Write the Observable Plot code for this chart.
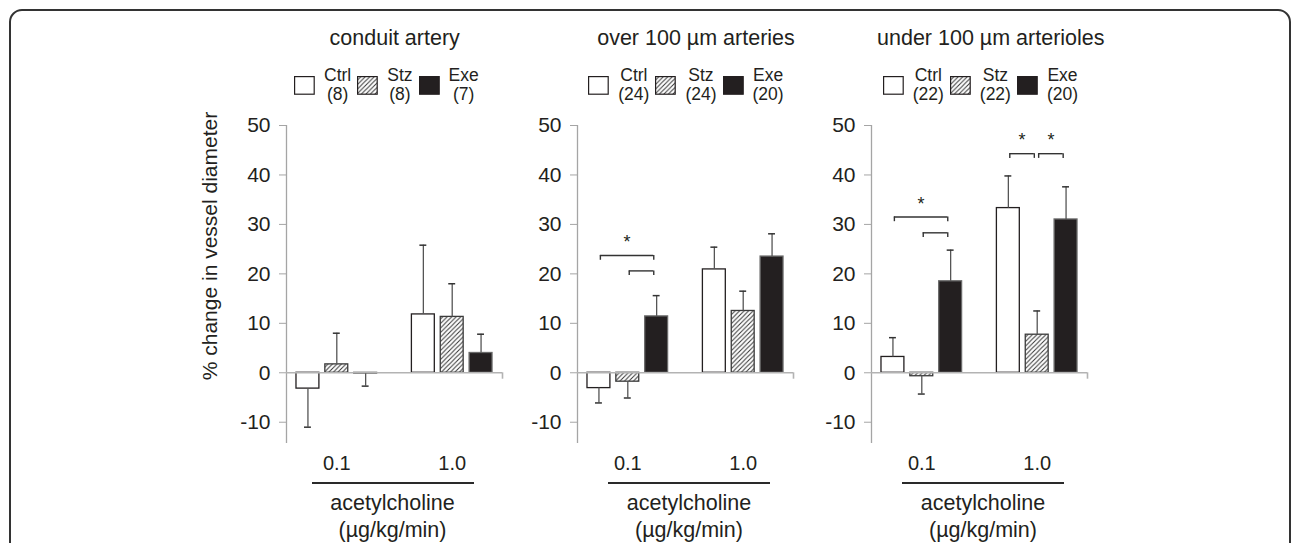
<!DOCTYPE html>
<html>
<head>
<meta charset="utf-8">
<script src="https://cdn.jsdelivr.net/npm/d3@7"></script>
<script src="https://cdn.jsdelivr.net/npm/@observablehq/plot@0.6"></script>
<style>
html, body { margin: 0; padding: 0; background: #fff; }
#root { position: relative; width: 1292px; height: 543px; overflow: hidden; background: #fff;
  font-family: "Liberation Sans", Arial, Helvetica, sans-serif; color: #231f20; }
#frame { position: absolute; left: 9px; top: 9px; width: 1282px; height: 620px; box-sizing: border-box;
  border: 2px solid #333; border-radius: 13px; }
.abs { position: absolute; white-space: nowrap; }
.legtxt { text-align: center; font-size: 17.5px; line-height: 18.5px; }
</style>
</head>
<body>
<svg width="0" height="0" style="position:absolute">
  <defs>
    <pattern id="hatch" patternUnits="userSpaceOnUse" width="4.5" height="4.5">
      <path d="M-1,1 L1,-1 M0,4.5 L4.5,0 M3.5,5.5 L5.5,3.5" stroke="#333" stroke-width="1"/>
    </pattern>
  </defs>
</svg>
<div id="root"><div id="frame"></div></div>
<script>
// ---------------- DATA ----------------
const groups = ["Ctrl", "Stz", "Exe"];
const doses = ["0.1", "1.0"];
const panelTitles = ["conduit artery", "over 100 µm arteries", "under 100 µm arterioles"];
const groupCounts = [[8, 8, 7], [24, 24, 20], [22, 22, 20]];
const yTicks = [-10, 0, 10, 20, 30, 40, 50];
const yTitle = "% change in vessel diameter";
const xTitle = "acetylcholine";
const xUnit = "(µg/kg/min)";

// order: Ctrl 0.1, Stz 0.1, Exe 0.1, Ctrl 1.0, Stz 1.0, Exe 1.0
const conduitMean = [-3.2, 1.7, -0.2, 11.8, 11.3, 4.0];
const conduitErr  = [7.8, 6.3, 2.5, 14.0, 6.7, 3.8];
const over100Mean = [-3.1, -1.8, 11.4, 20.9, 12.5, 23.5];
const over100Err  = [3.0, 3.3, 4.2, 4.5, 4.0, 4.6];
const under100Mean = [3.2, -0.7, 18.5, 33.3, 7.7, 31.0];
const under100Err  = [3.9, 3.6, 6.3, 6.5, 4.8, 6.6];

// significance brackets: panel index, dose, from group, to group, level, star
const bracketPanel = [1, 1, 2, 2, 2, 2];
const bracketDose  = ["0.1", "0.1", "0.1", "0.1", "1.0", "1.0"];
const bracketFrom  = ["Ctrl", "Stz", "Ctrl", "Stz", "Ctrl", "Stz"];
const bracketTo    = ["Exe", "Exe", "Exe", "Exe", "Stz", "Exe"];
const bracketLevel = [23.7, 20.6, 31.5, 28.3, 44.3, 44.3];
const bracketStar  = [true, false, true, false, true, true];

// ---------------- LAYOUT ----------------
const means = [conduitMean, over100Mean, under100Mean];
const errs = [conduitErr, over100Err, under100Err];
const AXIS_X = [286, 577, 871];
const FRAME_W = 216;
const ML = 80, MR = 12, MT = 125, MB = 42;
const FRAME_H = 318;
const TITLE_CX = [108.7, 119, 119.8];
const LEGEND_DX = [8, 11.3, 11.7];
const CAPTION_DX = [25.5, 31, 31];
const X_MIN = -0.743, X_MAX = 6.743;
const HALF = 0.397, CAP = 0.12;
const BR_IN_L = 0.05, BR_IN_R = 0.1, BR_TICK = 0.95;

const slotOf = (dose, group) => doses.indexOf(dose) * 4 + groups.indexOf(group);
const fills = {Ctrl: "#fff", Stz: "url(#hatch)", Exe: "#231f20"};
const strokes = {Ctrl: "#231f20", Stz: "#3a3a3a", Exe: "#6a6a6a"};

const root = document.getElementById("root");
const font = '"Liberation Sans", Arial, Helvetica, sans-serif';

function addDiv(html, css) {
  const d = document.createElement("div");
  d.className = "abs";
  d.innerHTML = html;
  Object.assign(d.style, css);
  root.appendChild(d);
  return d;
}

// y title
addDiv(yTitle, {left: (210 - 200) + "px", top: (246 - 12) + "px", width: "400px", textAlign: "center",
  fontSize: "21px", lineHeight: "24px", transform: "rotate(-90deg)"});

panelTitles.forEach((title, p) => {
  const ax = AXIS_X[p];
  const rows = [];
  doses.forEach((dose, di) => groups.forEach((g, gi) => {
    const k = di * 3 + gi;
    const m = means[p][k], e = errs[p][k];
    rows.push({dose, group: g, slot: slotOf(dose, g), mean: m, end: m + Math.sign(m) * e});
  }));
  const br = [];
  bracketPanel.forEach((bp, i) => {
    if (bp !== p) return;
    const a = slotOf(bracketDose[i], bracketFrom[i]) + BR_IN_L;
    const b = slotOf(bracketDose[i], bracketTo[i]) - BR_IN_R;
    br.push({a, b, mid: (a + b) / 2, y: bracketLevel[i], star: bracketStar[i]});
  });

  const plot = Plot.plot({
    width: ML + FRAME_W + MR,
    height: MT + FRAME_H + MB,
    marginLeft: ML, marginRight: MR, marginTop: MT, marginBottom: MB,
    x: {type: "linear", domain: [X_MIN, X_MAX]},
    y: {domain: [-14.3, 50]},
    style: {fontFamily: font, fontSize: "21px", background: "none", overflow: "visible", color: "#231f20"},
    marks: [
      Plot.ruleX([X_MIN], {stroke: "#a5a5a5", strokeWidth: 1.3}),
      Plot.axisY({ticks: yTicks, tickSize: 7, tickPadding: 9, stroke: "#a5a5a5", fill: "#231f20",
        fontSize: 21, label: null, tickFormat: d => String(d)}),
      Plot.axisX({ticks: doses.map(d => slotOf(d, "Stz")), tickFormat: v => doses[Math.round((v - 1) / 4)],
        tickSize: 0, tickPadding: 12, fontSize: 20, label: null, fill: "#231f20"}),
      ...groups.map(g => Plot.rect(rows.filter(r => r.group === g), {
        x1: d => d.slot - HALF, x2: d => d.slot + HALF, y1: 0, y2: "mean",
        fill: fills[g], stroke: strokes[g], strokeWidth: 1.3
      })),
      Plot.ruleY([0], {stroke: "#b3b3b3", strokeWidth: 1.6}),
      Plot.ruleX([X_MAX], {y1: 0, y2: -1.3, stroke: "#b3b3b3", strokeWidth: 1.6}),
      Plot.ruleX(rows, {x: "slot", y1: "mean", y2: "end", stroke: "#555", strokeWidth: 1.3}),
      Plot.ruleY(rows, {x1: d => d.slot - CAP, x2: d => d.slot + CAP, y: "end", stroke: "#333", strokeWidth: 1.5}),
      Plot.ruleY(br, {x1: "a", x2: "b", y: "y", stroke: "#333", strokeWidth: 1.4}),
      Plot.ruleX(br, {x: "a", y1: "y", y2: d => d.y - BR_TICK, stroke: "#333", strokeWidth: 1.4}),
      Plot.ruleX(br, {x: "b", y1: "y", y2: d => d.y - BR_TICK, stroke: "#333", strokeWidth: 1.4}),
      Plot.text(br.filter(d => d.star), {x: "mid", y: "y", text: () => "*", dy: -13, fontSize: 18, fill: "#231f20"})
    ]
  });
  plot.style.position = "absolute";
  plot.style.left = (ax - ML) + "px";
  plot.style.top = "0px";
  plot.style.maxWidth = "none";
  root.appendChild(plot);

  // title
  addDiv(title, {left: (ax + TITLE_CX[p] - 200) + "px", top: "26px", width: "400px", textAlign: "center",
    fontSize: "21.5px", lineHeight: "24px"});

  // legend
  const leg = addDiv("", {left: (ax + LEGEND_DX[p]) + "px", top: "66px", display: "flex", alignItems: "center"});
  groups.forEach((g, gi) => {
    const item = document.createElement("div");
    item.style.display = "flex";
    item.style.alignItems = "center";
    item.style.marginRight = "6px";
    const box = `<svg width="21" height="19" style="display:block;margin-top:1px;margin-right:9px">
      <rect x="0.6" y="0.6" width="19.6" height="17.6" fill="${fills[g]}" stroke="#231f20" stroke-width="1.2"/></svg>`;
    item.innerHTML = box + `<div><div class="legtxt">${g}</div><div class="legtxt">(${groupCounts[p][gi]})</div></div>`;
    leg.appendChild(item);
  });

  // caption under x axis
  const cl = ax + CAPTION_DX[p];
  addDiv("", {left: cl + "px", top: "482px", width: "162px", height: "0px", borderTop: "2.2px solid #2a2a2a"});
  addDiv(xTitle, {left: (cl + 81 - 150) + "px", top: "491px", width: "300px", textAlign: "center",
    fontSize: "21.5px", lineHeight: "24px"});
  addDiv(xUnit, {left: (cl + 81 - 150) + "px", top: "518px", width: "300px", textAlign: "center",
    fontSize: "21.5px", lineHeight: "24px"});
});
</script>
</body>
</html>
